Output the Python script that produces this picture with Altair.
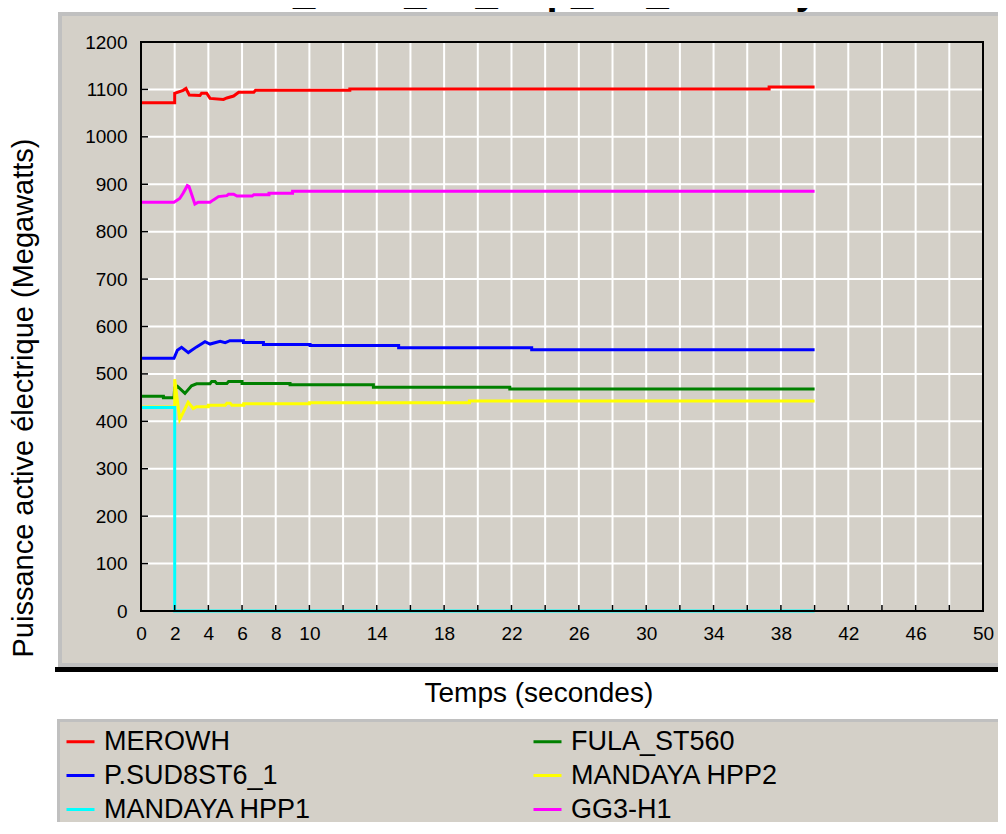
import altair as alt
import pandas as pd

# ---------------- data ----------------
series_names = ["MEROWH", "FULA_ST560", "P.SUD8ST6_1", "MANDAYA HPP2", "MANDAYA HPP1", "GG3-H1"]
series_colors = ["#ff0000", "#008000", "#0000ff", "#ffff00", "#00ffff", "#ff00ff"]
draw_order = ["MEROWH", "GG3-H1", "P.SUD8ST6_1", "FULA_ST560", "MANDAYA HPP2", "MANDAYA HPP1"]

merowh_t = [0, 2.0, 2.0, 2.5, 2.67, 2.87, 3.5, 3.6, 3.9, 4.1, 4.9, 5.1, 5.5, 5.8, 6.7, 6.8, 12.4, 12.4, 37.3, 37.3, 40]
merowh_v = [1072, 1072, 1092, 1098, 1102, 1088, 1087, 1092, 1092, 1081, 1079, 1082, 1086, 1094, 1094, 1098, 1098, 1101, 1101, 1105, 1105]

gg3_t = [0, 1.96, 2.3, 2.5, 2.75, 2.85, 3.05, 3.2, 3.4, 4.1, 4.3, 4.6, 5.1, 5.2, 5.5, 5.7, 6.6, 6.7, 7.6, 7.6, 9.0, 9.0, 40]
gg3_v = [862, 862, 870, 881, 897, 895, 874, 858, 862, 862, 867, 874, 876, 879, 879, 875, 875, 878, 878, 881, 881, 885, 885]

psud_t = [0, 1.96, 2.16, 2.41, 2.81, 3.3, 3.8, 4.1, 4.7, 5.0, 5.28, 6.08, 6.08, 7.27, 7.27, 10.04, 10.04, 15.3, 15.3, 23.2, 23.2, 40]
psud_v = [533, 533, 550, 556, 545, 557, 568, 563, 569, 566, 570, 570, 566, 566, 562, 562, 560, 560, 555, 555, 551, 551]

fula_t = [0, 1.33, 1.33, 1.96, 2.0, 2.16, 2.61, 3.0, 3.3, 4.1, 4.2, 4.4, 4.5, 5.1, 5.2, 6.0, 6.0, 8.85, 8.85, 13.8, 13.8, 21.9, 21.9, 40]
fula_v = [453, 453, 450, 450, 471, 474, 459, 475, 479, 479, 484, 484, 480, 480, 484, 484, 480, 480, 477, 477, 472, 472, 468, 468]

hpp2_t = [0, 2.0, 2.0, 2.3, 2.8, 3.1, 3.3, 4.0, 4.0, 5.0, 5.1, 5.3, 5.4, 6.1, 6.1, 10.0, 10.0, 19.5, 19.5, 40]
hpp2_v = [430, 430, 489, 404, 440, 427, 431, 431, 434, 434, 438, 438, 434, 434, 437, 437, 439, 439, 443, 443]

hpp1_t = [0, 2.0, 2.0, 40]
hpp1_v = [429, 429, 0, 0]

x_grid = [0, 2, 4, 6, 8, 10, 12, 14, 16, 18, 20, 22, 24, 26, 28, 30, 32, 34, 36, 38, 40, 42, 44, 46, 48, 50]
x_labels = [0, 2, 4, 6, 8, 10, 14, 18, 22, 26, 30, 34, 38, 42, 46, 50]
y_grid = [0, 100, 200, 300, 400, 500, 600, 700, 800, 900, 1000, 1100, 1200]

title_text = "OC_2020_S1_Trip_PS_Mandaya"
x_title = "Temps (secondes)"
y_title = "Puissance active électrique (Megawatts)"

# ---------------- tables ----------------
series_data = {
    "MEROWH": (merowh_t, merowh_v),
    "GG3-H1": (gg3_t, gg3_v),
    "P.SUD8ST6_1": (psud_t, psud_v),
    "FULA_ST560": (fula_t, fula_v),
    "MANDAYA HPP2": (hpp2_t, hpp2_v),
    "MANDAYA HPP1": (hpp1_t, hpp1_v),
}
rows = []
for name, (ts, vs) in series_data.items():
    for i, (t, v) in enumerate(zip(ts, vs)):
        rows.append({"series": name, "t": t, "v": v, "i": i})
df = pd.DataFrame(rows)
xg = pd.DataFrame({"t": x_grid})
yg = pd.DataFrame({"v": y_grid})
one = pd.DataFrame({"a": [0]})

W, H = 842, 569
FONT = "Liberation Sans"
PANEL = "#d4d0c8"
BORDER = "#c0c0c0"

xscale = alt.Scale(domain=[0, 50], nice=False, zero=False)
yscale = alt.Scale(domain=[0, 1200], nice=False)

xaxis = alt.Axis(
    values=x_labels, grid=False, ticks=False, tickSize=0, domain=False,
    labelFontSize=19, labelPadding=13, labelFont=FONT, labelColor="black",
    labelFlush=False, labelOverlap=False, format="d",
    title=x_title, titleX=283, titleY=90, titleAlign="left",
    titleBaseline="alphabetic", titleFontSize=28, titleFontWeight="normal",
    titleFont=FONT, titleColor="black", zindex=1,
)
yaxis = alt.Axis(
    values=y_grid, grid=False, ticks=False, tickSize=0, domain=False,
    labelFontSize=19, labelPadding=14, labelFont=FONT, labelColor="black",
    labelFlush=False, labelOverlap=False, format="d",
    title=y_title, titleX=-109, titleY=615, titleAlign="left", titleAngle=270,
    titleBaseline="alphabetic", titleFontSize=29, titleFontWeight="normal",
    titleFont=FONT, titleColor="black", zindex=1,
)
X = alt.X("t:Q", scale=xscale, axis=xaxis)
Y = alt.Y("v:Q", scale=yscale, axis=yaxis)


def box(x1, x2, y1, y2, color):
    return alt.Chart(one).mark_rect(color=color).encode(
        x=alt.value(x1), x2=alt.value(x2), y=alt.value(y1), y2=alt.value(y2)
    )


panel_border = box(-83, 857, -30, 625, BORDER)
panel_fill = box(-79, 857, -26, 621, PANEL)
panel_shadow = box(-86, 857, 625, 630, "#000000")
legend_border = box(-84, 857, 677, 790, BORDER)
legend_fill = box(-81, 857, 680, 790, PANEL)

xgrid = alt.Chart(xg).mark_rule(color="white", strokeWidth=2).encode(x=X)
ygrid = alt.Chart(yg).mark_rule(color="white", strokeWidth=2).encode(y=Y)

color = alt.Color(
    "series:N",
    scale=alt.Scale(domain=series_names, range=series_colors),
    legend=alt.Legend(
        title=None, orient="none", legendX=-76, legendY=684, columns=2,
        direction="horizontal",
        columnPadding=215, rowPadding=5, symbolType="stroke", symbolSize=784,
        symbolStrokeWidth=3, labelFontSize=27, labelOffset=8, labelLimit=600,
        padding=0, zindex=1, labelFont=FONT, labelColor="black",
    ),
)

line_layers = []
for name in draw_order:
    line_layers.append(
        alt.Chart(df).transform_filter(alt.datum.series == name)
        .mark_line(strokeWidth=3, interpolate="linear")
        .encode(x=X, y=Y, color=color, order=alt.Order("i:Q"))
    )

xticks = alt.Chart(xg).mark_rule(color="black", strokeWidth=1.5).encode(
    x=X, y=alt.value(H - 6), y2=alt.value(H)
)
yticks = alt.Chart(yg).mark_rule(color="black", strokeWidth=1.5).encode(
    y=Y, x=alt.value(0), x2=alt.value(7)
)

frame = alt.Chart(one).mark_rect(filled=False, stroke="black", strokeWidth=2).encode(
    x=alt.value(0), x2=alt.value(W), y=alt.value(0), y2=alt.value(H)
)

title = alt.Chart(one).mark_text(
    align="left", baseline="alphabetic", fontSize=40, fontWeight="bold",
    font=FONT, color="black",
).encode(x=alt.value(92), y=alt.value(-38), text=alt.value(title_text))

chart = alt.layer(
    panel_border, panel_fill, panel_shadow, legend_border, legend_fill,
    xgrid, ygrid, *line_layers, xticks, yticks, frame, title,
).properties(
    width=W, height=H,
    autosize=alt.AutoSizeParams(type="none"),
    padding={"left": 133, "top": 34, "right": 15, "bottom": 211},
    background="white",
).configure_view(stroke=None).configure(font=FONT)

chart.save("out.html", embed_options={"renderer": "svg", "actions": False})
